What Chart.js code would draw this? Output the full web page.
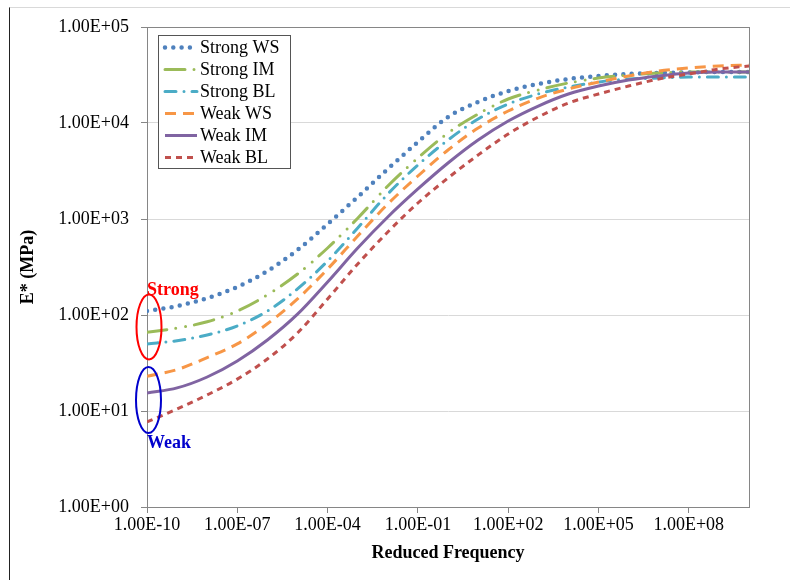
<!DOCTYPE html>
<html>
<head>
<meta charset="utf-8">
<script src="https://cdn.jsdelivr.net/npm/chart.js@4.4.1/dist/chart.umd.min.js"></script>
<style>
  body { margin: 0; background: #fff; }
  #frame { position: absolute; left: 9px; top: 7px; width: 790px; height: 580px;
           border-left: 1px solid #222; border-top: 1px solid #d9d9d9; }
  #myChart { position: absolute; left: 0; top: 0; }
</style>
</head>
<body>
<div id="frame"></div>
<canvas id="myChart" width="790" height="580"></canvas>
<script>
// Reduced frequency, one point per decade
const freqs = [1e-10, 1e-9, 1e-8, 1e-7, 1e-6, 1e-5, 1e-4, 1e-3, 1e-2, 1e-1, 1e0,
               1e1, 1e2, 1e3, 1e4, 1e5, 1e6, 1e7, 1e8, 1e9, 1e10];

// E* (MPa) per series
const strongWS = [110, 124, 150, 196, 287, 476, 887, 1695, 3318, 6340, 11550, 16550, 21540, 25480, 28720, 30900, 32400, 33200, 33600, 34000, 34000];
const strongIM = [66, 73, 85, 110, 162, 267, 499, 1020, 2210, 4320, 7870, 12400, 17780, 22060, 26100, 29400, 31600, 33200, 34000, 34000, 34000];
const strongBL = [50, 54, 62, 77, 110, 187, 365, 806, 1821, 3650, 6650, 11000, 15780, 20050, 23700, 26700, 28700, 29400, 30150, 30150, 30150];
const weakWS = [23, 27, 36, 50, 81, 147, 301, 665, 1433, 2805, 5230, 8870, 13340, 18200, 22600, 26700, 30900, 34800, 37400, 39300, 40200];
const weakIM = [15.4, 17.4, 22.6, 33.2, 54.9, 102, 221, 499, 1050, 2054, 3830, 6650, 10490, 15030, 20050, 24270, 28050, 30900, 33200, 34000, 34000];
const weakBL = [7.7, 10.5, 14.7, 21.5, 34.8, 64.9, 147, 340, 732, 1468, 2673, 4640, 7680, 11550, 16150, 20050, 24270, 28720, 32400, 36500, 39300];

const seriesNames = ['Strong WS', 'Strong IM', 'Strong BL', 'Weak WS', 'Weak IM', 'Weak BL'];

// Tick labels
const xTicks = [1e-10, 1e-7, 1e-4, 1e-1, 1e2, 1e5, 1e8];
const xTickLabels = ['1.00E-10', '1.00E-07', '1.00E-04', '1.00E-01', '1.00E+02', '1.00E+05', '1.00E+08'];
const yTicks = [1, 10, 100, 1000, 10000, 100000];
const yTickLabels = ['1.00E+00', '1.00E+01', '1.00E+02', '1.00E+03', '1.00E+04', '1.00E+05'];

const serif = "'Liberation Serif', 'Times New Roman', serif";

function points(values) {
    return freqs.map((f, i) => ({ x: f, y: values[i] }));
}

// Linienstile wie im Excel-Diagramm
const styles = [
    { color: '#4F81BD', width: 4.5, dash: [0, 8.3], cap: 'round' },
    { color: '#9BBB59', width: 3, dash: [20, 9, 0, 10, 0, 9], cap: 'round' },
    { color: '#4BACC6', width: 3, dash: [11, 8, 0, 8], cap: 'round' },
    { color: '#F79646', width: 3, dash: [11, 7], cap: 'butt' },
    { color: '#8064A2', width: 3, dash: [], cap: 'butt' },
    { color: '#C0504D', width: 3, dash: [6, 5], cap: 'butt' }
];
const allSeries = [strongWS, strongIM, strongBL, weakWS, weakIM, weakBL];

const datasets = allSeries.map((vals, i) => ({
    label: seriesNames[i],
    data: points(vals),
    borderColor: styles[i].color,
    backgroundColor: styles[i].color,
    borderWidth: styles[i].width,
    borderDash: styles[i].dash,
    borderCapStyle: styles[i].cap,
    pointRadius: 0,
    cubicInterpolationMode: 'monotone',
    fill: false,
    order: 5 - i
}));

// Rahmen um den Plotbereich
const plotBorder = {
    id: 'plotBorder',
    beforeDatasetsDraw(chart) {
        const a = chart.chartArea;
        const ctx = chart.ctx;
        ctx.save();
        ctx.strokeStyle = '#868686';
        ctx.lineWidth = 1;
        ctx.strokeRect(a.left + 0.5, a.top + 0.5, a.right - a.left, a.bottom - a.top);
        ctx.restore();
    }
};

// Legende im Plotbereich
const boxLegend = {
    id: 'boxLegend',
    afterDraw(chart) {
        const ctx = chart.ctx;
        ctx.save();
        ctx.fillStyle = '#fff';
        ctx.fillRect(158.5, 35.5, 132, 133);
        ctx.strokeStyle = '#555';
        ctx.lineWidth = 1;
        ctx.strokeRect(158.5, 35.5, 132, 133);
        seriesNames.forEach((name, i) => {
            const y = 47.5 + 22 * i;
            ctx.beginPath();
            ctx.strokeStyle = styles[i].color;
            ctx.lineWidth = styles[i].width;
            ctx.lineCap = styles[i].cap;
            ctx.setLineDash(styles[i].dash);
            ctx.moveTo(165, y);
            ctx.lineTo(197, y);
            ctx.stroke();
            ctx.setLineDash([]);
            ctx.fillStyle = '#000';
            ctx.font = '18px ' + serif;
            ctx.textBaseline = 'middle';
            ctx.textAlign = 'left';
            ctx.fillText(name, 200, y + 1);
        });
        ctx.restore();
    }
};

// Markierungen "Strong" / "Weak"
const marks = {
    id: 'marks',
    afterDatasetsDraw(chart) {
        const ctx = chart.ctx;
        const xs = chart.scales.x;
        const ys = chart.scales.y;
        const x0 = xs.getPixelForValue(freqs[0]);
        ctx.save();
        ctx.lineWidth = 2;
        ctx.strokeStyle = '#FF0000';
        ctx.beginPath();
        ctx.ellipse(x0 + 2, ys.getPixelForValue(75), 12.5, 32.5, 0, 0, Math.PI * 2);
        ctx.stroke();
        ctx.strokeStyle = '#0000CC';
        ctx.beginPath();
        ctx.ellipse(x0 + 1.5, ys.getPixelForValue(13), 12.5, 33, 0, 0, Math.PI * 2);
        ctx.stroke();
        ctx.font = 'bold 18px ' + serif;
        ctx.textAlign = 'left';
        ctx.textBaseline = 'middle';
        ctx.fillStyle = '#FF0000';
        ctx.fillText('Strong', x0, ys.getPixelForValue(75) - 37);
        ctx.fillStyle = '#0000CC';
        ctx.fillText('Weak', x0, ys.getPixelForValue(13) + 43);
        ctx.restore();
    }
};

const ctx = document.getElementById('myChart').getContext('2d');

let chart = new Chart(ctx, {
    type: 'line',
    data: { datasets: datasets },
    options: {
        responsive: false,
        animation: false,
        devicePixelRatio: 1,
        layout: { padding: { left: 0, top: 27, right: 41, bottom: 0 } },
        plugins: {
            legend: { display: false },
            tooltip: { enabled: false }
        },
        scales: {
            x: {
                type: 'logarithmic',
                min: 1e-10,
                max: 1e10,
                afterBuildTicks: (scale) => { scale.ticks = xTicks.map(v => ({ value: v })); },
                afterFit: (scale) => { scale.height = 73; },
                ticks: {
                    autoSkip: false,
                    maxRotation: 0,
                    padding: 1,
                    color: '#000',
                    font: { family: serif, size: 18 },
                    callback: (v, i) => xTickLabels[i]
                },
                grid: { drawOnChartArea: false, drawTicks: true, tickLength: 6, tickColor: '#868686' },
                border: { color: '#868686' },
                title: {
                    display: true,
                    text: 'Reduced Frequency',
                    color: '#000',
                    font: { family: serif, size: 18, weight: 'bold' },
                    padding: { top: 0, bottom: 16 }
                }
            },
            y: {
                type: 'logarithmic',
                min: 1,
                max: 100000,
                afterBuildTicks: (scale) => { scale.ticks = yTicks.map(v => ({ value: v })); },
                afterFit: (scale) => { scale.width = 147; },
                ticks: {
                    autoSkip: false,
                    padding: 12,
                    color: '#000',
                    font: { family: serif, size: 18 },
                    callback: (v, i) => yTickLabels[i]
                },
                grid: { color: '#D9D9D9', tickLength: 6, tickColor: '#868686' },
                border: { color: '#868686' },
                title: {
                    display: true,
                    text: 'E* (MPa)',
                    color: '#000',
                    font: { family: serif, size: 18, weight: 'bold' },
                    padding: { top: 18, bottom: 0 }
                }
            }
        }
    },
    plugins: [plotBorder, marks, boxLegend]
});
</script>
</body>
</html>
